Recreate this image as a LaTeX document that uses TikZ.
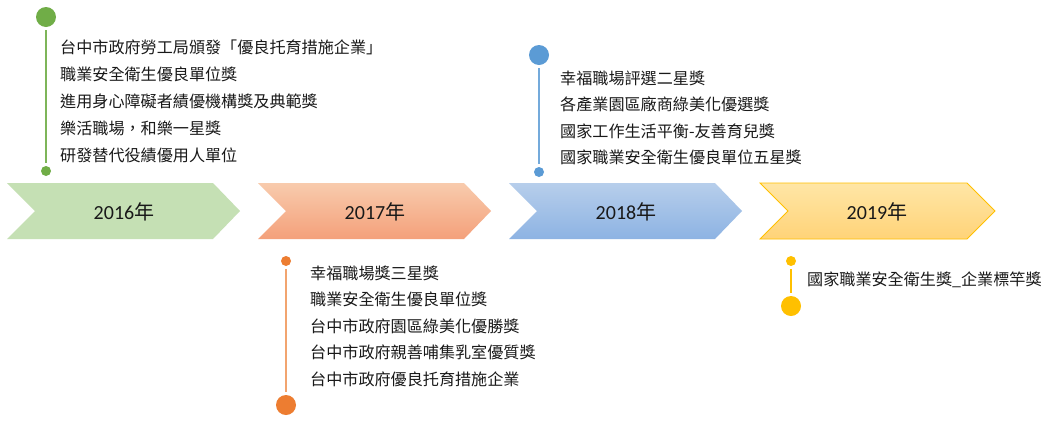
\documentclass[tikz,border=0pt]{standalone}
\usepackage{fontspec}
\setmainfont{Carlito}
\newfontfamily\cjk{Noto Sans CJK TC}
\definecolor{cgreen}{HTML}{70AD47}
\definecolor{corange}{HTML}{ED7D31}
\definecolor{cblue}{HTML}{5B9BD5}
\definecolor{cgold}{HTML}{FFC000}
\begin{document}
\begin{tikzpicture}[x=1pt,y=-1pt,
  bigdot/.style={circle,minimum size=20pt,inner sep=0pt,fill=#1},
  smalldot/.style={circle,minimum size=10pt,inner sep=0pt,fill=#1},
  stem/.style={line width=2.5pt,draw=#1,shorten <=3pt,shorten >=3pt},
  item/.style={anchor=west,inner sep=0pt,font=\cjk\fontsize{16.1}{17}\selectfont,text=black!90},
  yearlbl/.style={inner sep=0pt,font=\fontsize{20}{22}\selectfont,text=black!90}]
\useasboundingbox (0,0) rectangle (1053,424);
\fill[white] (0,0) rectangle (1053,424);
% chevrons
\fill[fill={rgb,255:red,197;green,224;blue,180}] (7,183) -- (213,183) -- (240,211) -- (213,239) -- (7,239) -- (35,211) -- cycle;
\shade[top color={rgb,255:red,248;green,203;blue,173},bottom color={rgb,255:red,244;green,160;blue,122}] (258,183) -- (464,183) -- (491,211) -- (464,239) -- (258,239) -- (286,211) -- cycle;
\shade[top color={rgb,255:red,183;green,206;blue,235},bottom color={rgb,255:red,141;green,179;blue,227}] (509,183) -- (715,183) -- (742,211) -- (715,239) -- (509,239) -- (537,211) -- cycle;
\shade[top color={rgb,255:red,255;green,230;blue,166},bottom color={rgb,255:red,255;green,211;blue,120},draw=cgold,line width=0.8pt] (760,183) -- (967,183) -- (995,211) -- (967,239) -- (760,239) -- (788,211) -- cycle;
\node[yearlbl] (y16) at (124,212) {2016{\cjk 年}};
\node[yearlbl] (y17) at (375,212) {2017{\cjk 年}};
\node[yearlbl] (y18) at (626,212) {2018{\cjk 年}};
\node[yearlbl] (y19) at (877,212) {2019{\cjk 年}};
% 2016
\node[bigdot=cgreen] (a1) at (46,17) {};
\node[smalldot=cgreen] (a2) at (46,171) {};
\draw[stem=cgreen!90] (a1) -- (a2);
\node[item] (t16a) at (60,47) {台中市政府勞工局頒發「優良托育措施企業」};
\node[item] (t16b) at (60,74) {職業安全衛生優良單位獎};
\node[item] (t16c) at (60,101) {進用身心障礙者績優機構獎及典範獎};
\node[item] (t16d) at (60,128) {樂活職場，和樂一星獎};
\node[item] (t16e) at (60,155) {研發替代役績優用人單位};
% 2017
\node[smalldot=corange] (b1) at (286,261) {};
\node[bigdot=corange] (b2) at (286,405) {};
\draw[stem=corange!70] (b1) -- (b2);
\node[item] (t17a) at (310,273) {幸福職場獎三星獎};
\node[item] (t17b) at (310,299.5) {職業安全衛生優良單位獎};
\node[item] (t17c) at (310,326) {台中市政府園區綠美化優勝獎};
\node[item] (t17d) at (310,352.5) {台中市政府親善哺集乳室優質獎};
\node[item] (t17e) at (310,379) {台中市政府優良托育措施企業};
% 2018
\node[bigdot=cblue] (c1) at (539,55) {};
\node[smalldot=cblue] (c2) at (539,172) {};
\draw[stem=cblue!85] (c1) -- (c2);
\node[item] (t18a) at (560,78) {幸福職場評選二星獎};
\node[item] (t18b) at (560,104.5) {各產業園區廠商綠美化優選獎};
\node[item] (t18c) at (560,131) {國家工作生活平衡-友善育兒獎};
\node[item] (t18d) at (560,157.5) {國家職業安全衛生優良單位五星獎};
% 2019
\node[smalldot=cgold] (d1) at (791,261) {};
\node[bigdot=cgold] (d2) at (791,306) {};
\draw[stem=cgold] (d1) -- (d2);
\node[item] (t19a) at (807,280) {國家職業安全衛生獎\_企業標竿獎};
\end{tikzpicture}
\end{document}
